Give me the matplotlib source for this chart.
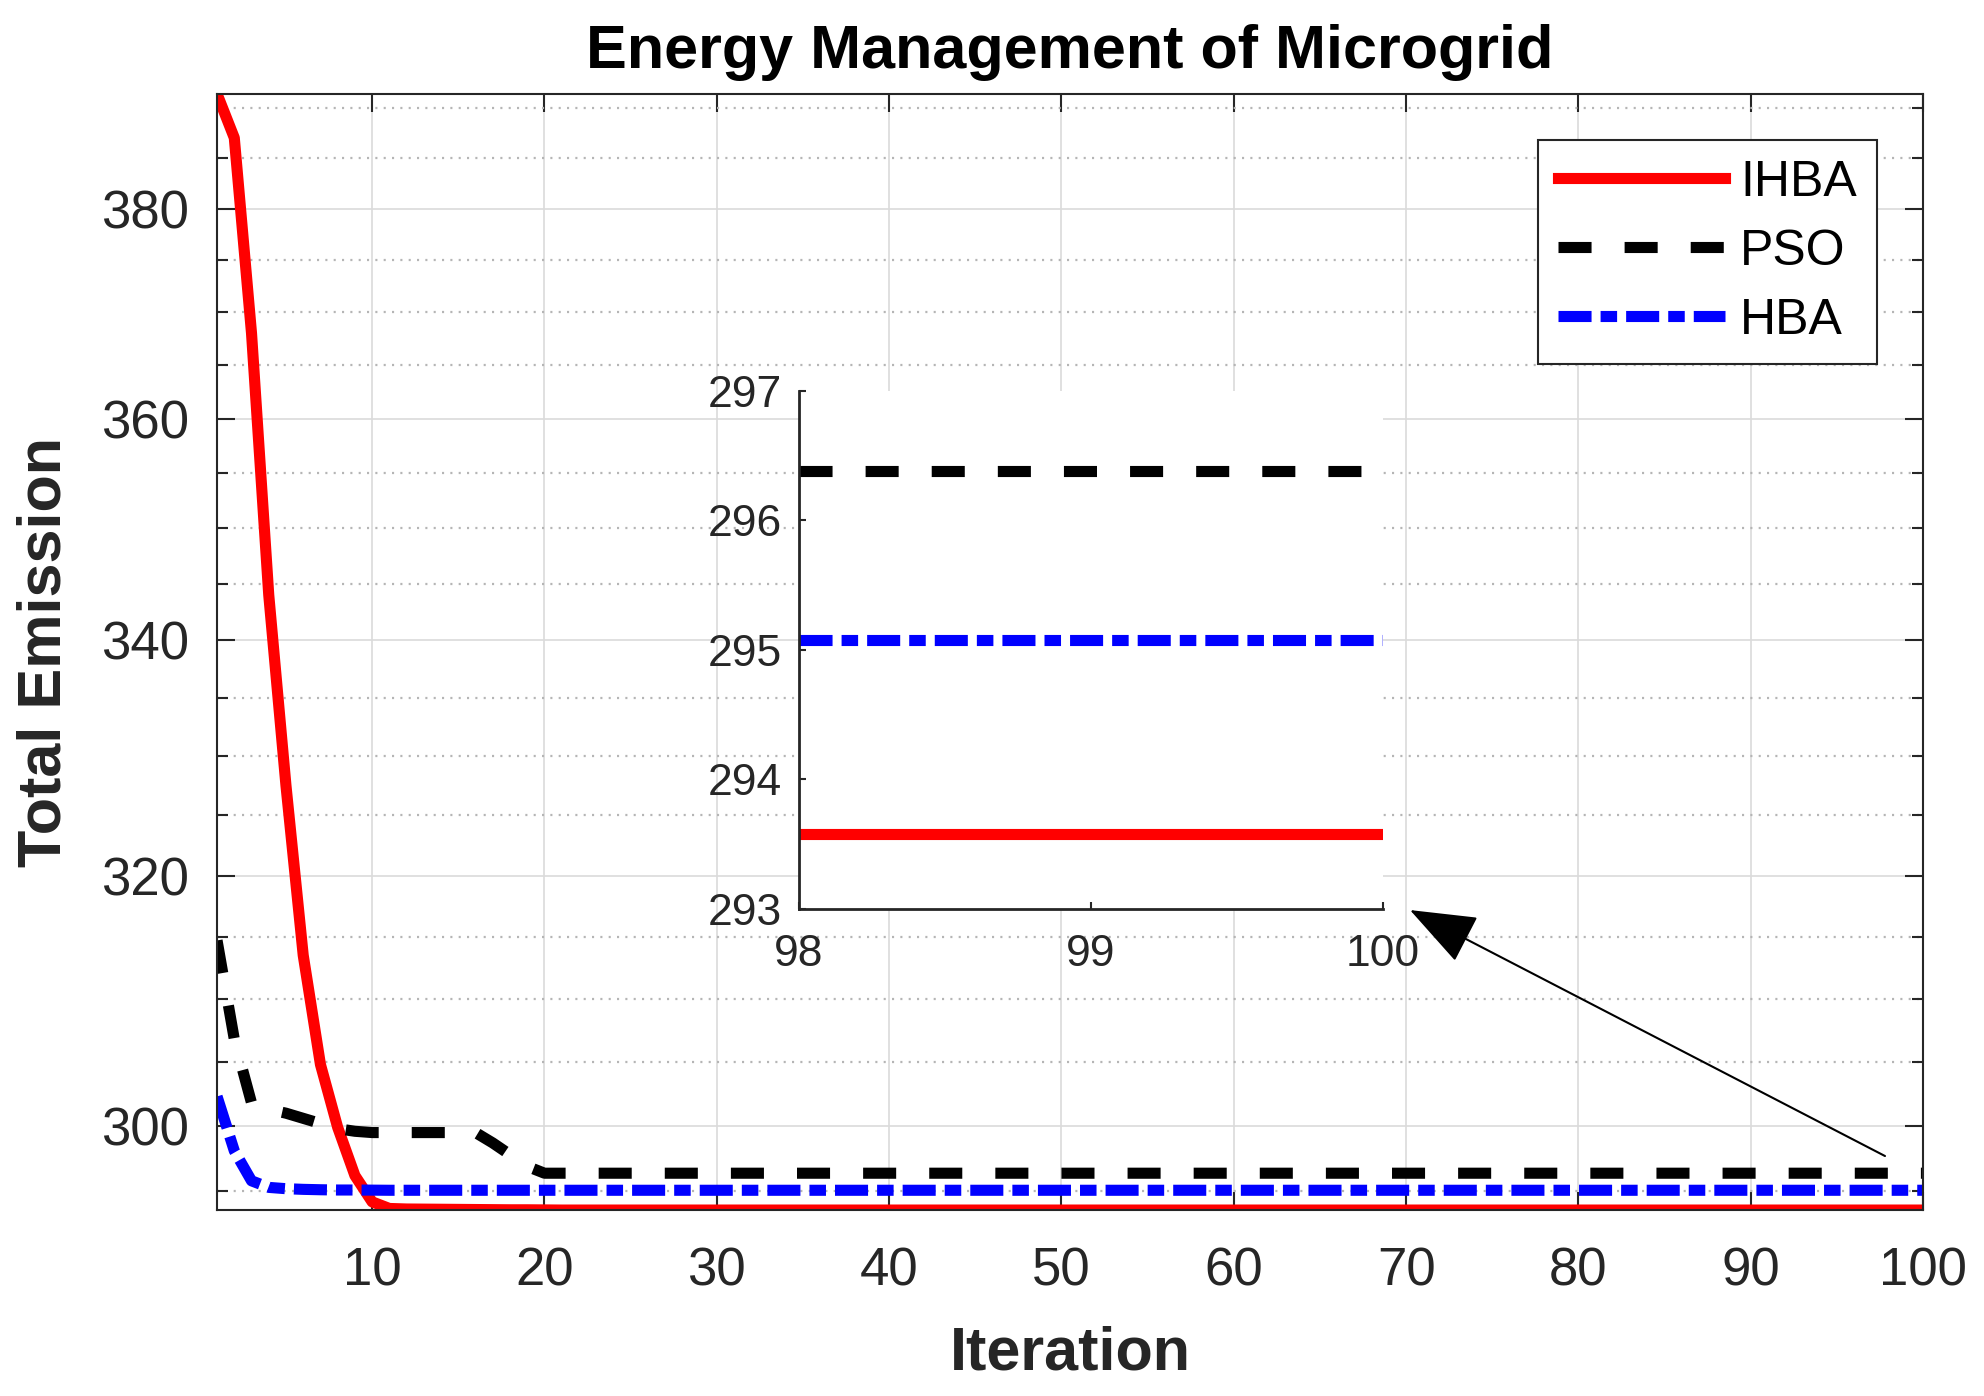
import numpy as np
import matplotlib
matplotlib.use("Agg")
import matplotlib.pyplot as plt
from matplotlib.ticker import FixedLocator, NullFormatter, NullLocator

plt.rcParams['font.family'] = ['Liberation Sans', 'DejaVu Sans']
plt.rcParams['lines.scale_dashes'] = False

# Convergence data
iterations = np.arange(1, 101)

ihba = [391.4, 387.0, 368.0, 344.0, 327.5, 313.5, 304.8, 299.9, 296.2, 294.2,
        293.70, 293.66, 293.65, 293.64, 293.63, 293.62, 293.61, 293.60, 293.60, 293.59] + [293.58] * 80
pso = [314.7, 306.8, 301.8, 301.3, 301.0, 300.6, 300.2, 299.8, 299.6, 299.5,
       299.5, 299.5, 299.5, 299.5, 299.5, 299.5, 298.7, 297.8, 296.9, 296.38] + [296.38] * 80
hba = [302.3, 298.1, 295.8, 295.3, 295.2, 295.15, 295.12, 295.10, 295.10, 295.09] + [295.08] * 90

labels = ["IHBA", "PSO", "HBA"]
y_major = [300, 320, 340, 360, 380]
y_minor = [295, 305, 310, 315, 325, 330, 335, 345, 350, 355, 365, 370, 375, 385, 390]
x_major = [10, 20, 30, 40, 50, 60, 70, 80, 90, 100]
inset_xticks = [98, 99, 100]
inset_yticks = [293, 294, 295, 296, 297]

gray = '#262626'
lw = 8
styles = [dict(color='#ff0000', ls='-'),
          dict(color='k', ls=(0, (23.8, 23.8))),
          dict(color='#0000ff', ls=(0, (23.8, 6.5, 11.9, 6.5)))]
series = [ihba, pso, hba]

fig = plt.figure(figsize=(19.84, 13.96), dpi=100)
ax = fig.add_axes([0.1094, 0.1332, 0.8599, 0.7995])

handles = []
for s, st, lab in zip(series, styles, labels):
    h, = ax.plot(iterations, s, lw=lw, label=lab, **st)
    handles.append(h)

ax.set_yscale('log')
ax.set_xlim(1, 100)
ax.set_ylim(min(ihba), max(ihba))
ax.set_xticks(x_major)
ax.xaxis.set_minor_locator(NullLocator())
ax.yaxis.set_major_locator(FixedLocator(y_major))
ax.set_yticklabels([str(v) for v in y_major])
ax.yaxis.set_minor_locator(FixedLocator(y_minor))
ax.yaxis.set_minor_formatter(NullFormatter())

ax.grid(which='major', color='#dadada', lw=1.2, ls='-')
ax.grid(which='minor', axis='y', color='#b5b5b5', lw=1.6, ls=(0, (1.5, 4.5)))
ax.set_axisbelow(True)

ax.tick_params(which='both', direction='in', top=True, right=True, colors=gray, width=1.5)
ax.tick_params(which='major', length=13, labelsize=38, pad=20)
ax.tick_params(axis='x', which='major', pad=26)
ax.tick_params(which='minor', length=8)
for sp in ax.spines.values():
    sp.set_color(gray)
    sp.set_linewidth(1.5)

ax.set_title('Energy Management of Microgrid', fontsize=44, fontweight='bold', pad=19)
ax.set_xlabel('Iteration', fontsize=44, fontweight='bold', color=gray, labelpad=21)
ax.set_ylabel('Total Emission', fontsize=44, fontweight='bold', color=gray, labelpad=20)

leg = ax.legend(handles=handles, loc='upper right', bbox_to_anchor=(0.973, 0.9588),
                fontsize=36, frameon=True, fancybox=False, framealpha=1,
                edgecolor=gray, handlelength=3.35, handletextpad=0.3,
                labelspacing=0.46, borderpad=0.4, borderaxespad=0)
leg.get_frame().set_linewidth(1.5)

# zoomed inset of the last iterations
axin = fig.add_axes([0.4027, 0.3489, 0.2944, 0.3711])
for s, st in zip(series, styles):
    axin.plot(iterations[97:], s[97:], lw=lw, **st)
axin.set_xlim(98, 100)
axin.set_ylim(293, 297)
axin.set_xticks(inset_xticks)
axin.set_yticks(inset_yticks)
axin.tick_params(direction='in', length=5, width=1.5, colors=gray, labelsize=32, pad=12)
axin.tick_params(axis='x', pad=18)
axin.spines['top'].set_visible(False)
axin.spines['right'].set_visible(False)
for k in ['left', 'bottom']:
    axin.spines[k].set_color(gray)
    axin.spines[k].set_linewidth(2)

axin.annotate('', xy=(0.7107, 0.3481), xycoords='figure fraction',
              xytext=(0.9501, 0.1719), textcoords='figure fraction',
              arrowprops=dict(arrowstyle='-|>,head_length=1.7,head_width=0.65',
                              color='k', lw=1.5, mutation_scale=25,
                              shrinkA=0, shrinkB=0),
              annotation_clip=False)

fig.savefig('out.png', dpi=100)
